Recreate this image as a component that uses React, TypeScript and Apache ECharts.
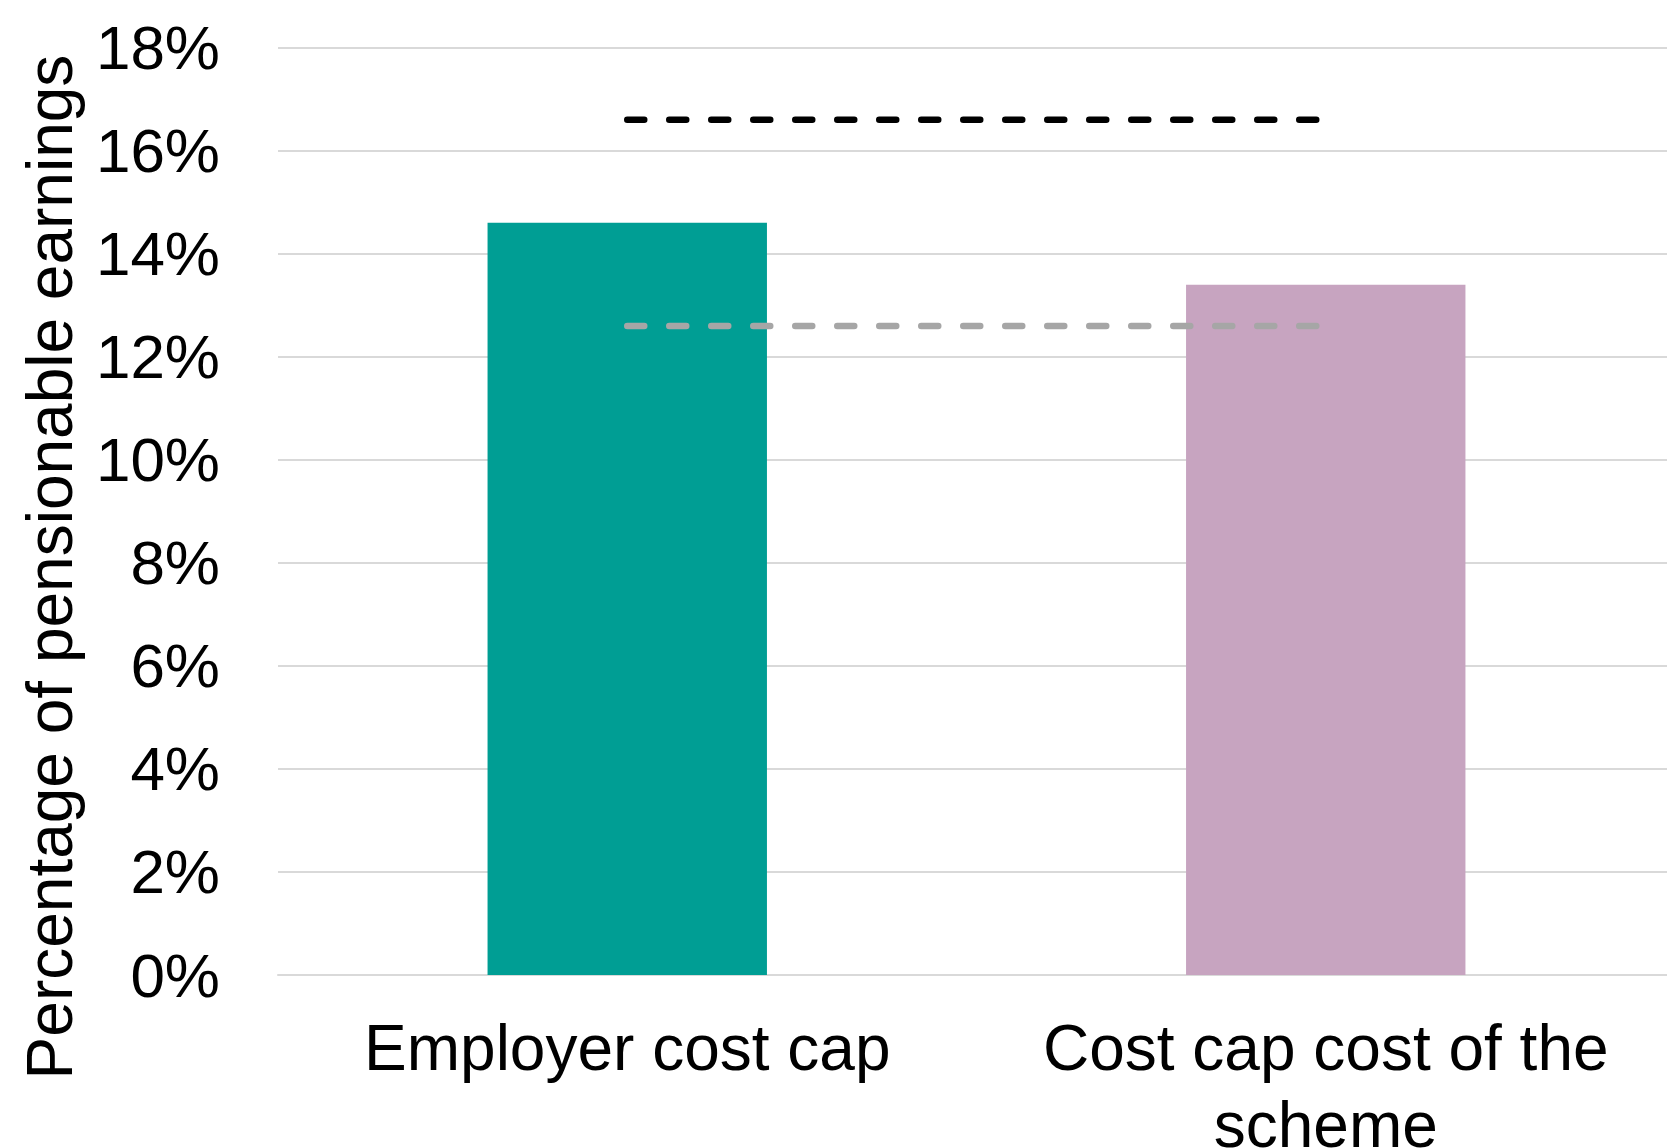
import React, { useEffect, useRef } from "react";
import * as echarts from "echarts";

const categories = ["Employer cost cap", "Cost cap cost of the\nscheme"];
const barValues = [14.6, 13.4];
const barColors = ["#009E94", "#C7A4C0"];
const ceilingLine = [16.6, 16.6];
const floorLine = [12.6, 12.6];
const yTicks = { min: 0, max: 18, interval: 2 };
const yTitle = "Percentage of pensionable earnings";

const FONT = "'Liberation Sans', Arial, sans-serif";

export default function App() {
  const ref = useRef<HTMLDivElement>(null);
  useEffect(() => {
    if (!ref.current) return;
    const chart = echarts.init(ref.current, undefined, { renderer: "svg" });
    chart.setOption({
      animation: false,
      backgroundColor: "#ffffff",
      grid: {
        left: 278,
        right: -8,
        top: 47.7,
        height: 927.3,
        containLabel: false,
        outerBoundsMode: "none",
      },
      xAxis: {
        type: "category",
        data: categories,
        axisLine: { show: true, lineStyle: { color: "#D9D9D9", width: 2 } },
        axisTick: { show: false },
        axisLabel: {
          color: "#000",
          fontFamily: FONT,
          fontSize: 64,
          lineHeight: 77,
          margin: 34,
          interval: 0,
        },
      },
      yAxis: {
        type: "value",
        min: yTicks.min,
        max: yTicks.max,
        interval: yTicks.interval,
        axisLine: { show: false },
        axisTick: { show: false },
        splitLine: { lineStyle: { color: "#D9D9D9", width: 2 } },
        axisLabel: {
          formatter: "{value}%",
          color: "#000",
          fontFamily: FONT,
          fontSize: 62,
          margin: 58,
        },
      },
      graphic: [
        {
          type: "text",
          x: 50,
          y: 567,
          rotation: Math.PI / 2,
          style: {
            text: yTitle,
            fill: "#000",
            font: `64px ${FONT}`,
            textAlign: "center",
            textVerticalAlign: "middle",
          },
        },
      ],
      series: [
        {
          type: "bar",
          barWidth: "40%",
          data: barValues.map((v, i) => ({ value: v, itemStyle: { color: barColors[i] } })),
          z: 2,
        },
        {
          type: "line",
          data: ceilingLine,
          symbol: "none",
          z: 5,
          lineStyle: { color: "#000000", width: 6.5, type: [17, 25], cap: "round" },
        },
        {
          type: "line",
          data: floorLine,
          symbol: "none",
          z: 5,
          lineStyle: { color: "#A6A6A6", width: 6.5, type: [17, 25], cap: "round" },
        },
      ],
    });
    return () => chart.dispose();
  }, []);
  return (
    <div
      ref={ref}
      style={{ position: "fixed", left: 0, top: 0, width: 1667, height: 1148 }}
    />
  );
}
